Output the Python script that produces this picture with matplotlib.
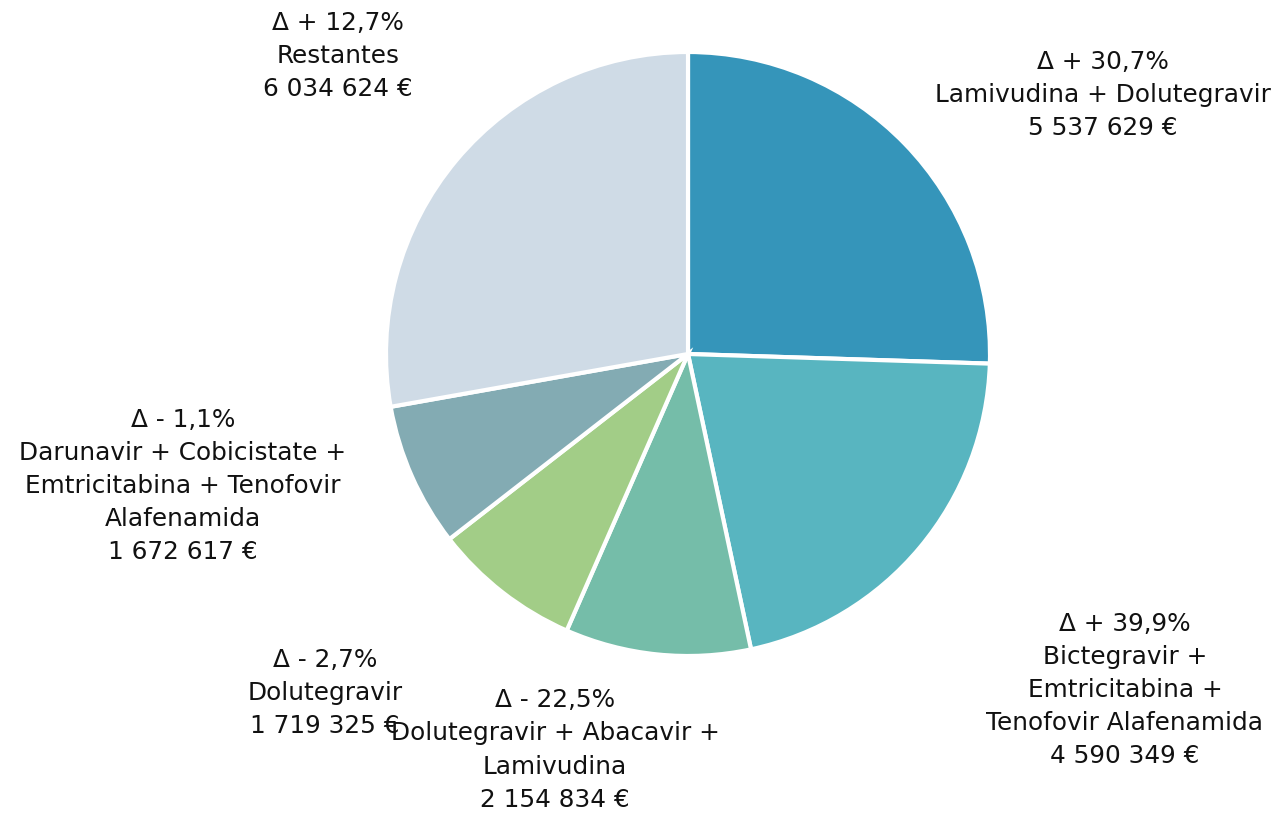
import matplotlib
matplotlib.use("Agg")
import matplotlib.pyplot as plt

names = ["Lamivudina + Dolutegravir",
         "Bictegravir +\nEmtricitabina +\nTenofovir Alafenamida",
         "Dolutegravir + Abacavir +\nLamivudina",
         "Dolutegravir",
         "Darunavir + Cobicistate +\nEmtricitabina + Tenofovir\nAlafenamida",
         "Restantes"]
values = [5537629, 4590349, 2154834, 1719325, 1672617, 6034624]
deltas = ["+ 30,7%", "+ 39,9%", "- 22,5%", "- 2,7%", "- 1,1%", "+ 12,7%"]
colors = ["#3595BA", "#58B5C0", "#75BDA9", "#A2CD87", "#83ABB3", "#CFDBE6"]

# label anchor positions (pixel coords, y from top)
label_pos = [(1103, 95), (1125, 690), (555, 750), (325, 693), (183, 486), (338, 56)]

W, H = 1276, 818
fig = plt.figure(figsize=(W / 100, H / 100), dpi=100)
ax = fig.add_axes([0, 0, 1, 1])
ax.set_xlim(0, W)
ax.set_ylim(0, H)
ax.axis("off")

ax.pie(values, colors=colors, startangle=90, counterclock=False,
       center=(688, H - 354), radius=302,
       wedgeprops=dict(edgecolor="white", linewidth=3))
ax.set_xlim(0, W)
ax.set_ylim(0, H)
ax.set_aspect("equal")


def fmt(v):
    return f"{v:,}".replace(",", " ") + " €"


for name, v, d, (x, y) in zip(names, values, deltas, label_pos):
    ax.text(x, H - y, f"Δ {d}\n{name}\n{fmt(v)}", ha="center", va="center",
            fontsize=17.8, family="DejaVu Sans", linespacing=1.48, color="#111111")

fig.savefig("out.png", dpi=100)
